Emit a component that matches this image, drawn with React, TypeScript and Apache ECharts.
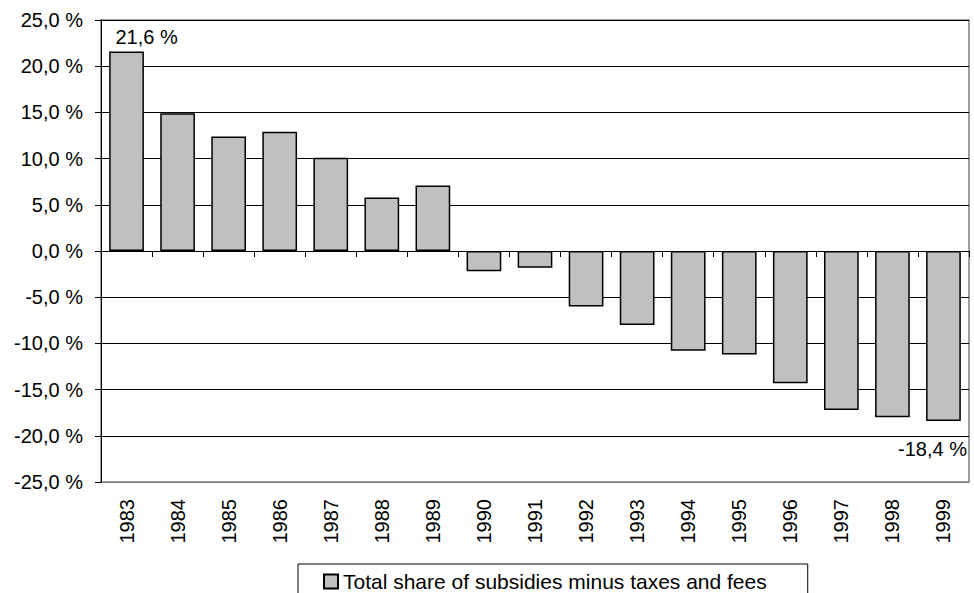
import React, { useEffect, useRef } from "react";
import * as echarts from "echarts";

// Years on the category axis
const years = [
  "1983", "1984", "1985", "1986", "1987", "1988", "1989", "1990", "1991",
  "1992", "1993", "1994", "1995", "1996", "1997", "1998", "1999",
];

// Net subsidy share per year, in percent
const shares = [
  21.6, 14.9, 12.4, 12.9, 10.1, 5.8, 7.1, -2.2, -1.8,
  -6.0, -8.0, -10.8, -11.2, -14.3, -17.2, -18.0, -18.4,
];

// Value axis ticks, percent
const yTicks = [-25, -20, -15, -10, -5, 0, 5, 10, 15, 20, 25];

const seriesName = "Total share of subsidies minus taxes and fees";

const FONT = "'Liberation Sans', Arial, Helvetica, sans-serif";

const fmtPct = (v: number) => v.toFixed(1).replace(".", ",") + " %";

export default function App() {
  const ref = useRef<HTMLDivElement>(null);

  useEffect(() => {
    if (!ref.current) return;
    const chart = echarts.init(ref.current, undefined, { renderer: "svg" });

    const lastIdx = shares.length - 1;
    const barData = shares.map((v, i) => {
      if (i === 0) {
        return {
          value: v,
          label: {
            show: true,
            position: "top",
            distance: 4,
            offset: [20, 0],
            formatter: () => fmtPct(v),
          },
        };
      }
      if (i === lastIdx) {
        return {
          value: v,
          label: {
            show: true,
            position: "bottom",
            distance: 18,
            offset: [-11, 0],
            formatter: () => fmtPct(v),
          },
        };
      }
      return { value: v };
    });

    // bottom gridline doubles as the gray frame edge; the rest are black
    const gridColors = yTicks.map((t, i) => (i === 0 ? "#808080" : "#000000"));

    chart.setOption({
      animation: false,
      backgroundColor: "#ffffff",
      textStyle: { fontFamily: FONT },
      grid: {
        left: 101,
        top: 20,
        right: 5,
        bottom: 111,
        show: true,
        borderColor: "#808080",
        borderWidth: 1.5,
        outerBoundsMode: "none",
        containLabel: false,
      },
      legend: {
        show: true,
        left: 298,
        top: 564,
        data: [seriesName],
        icon: "rect",
        itemWidth: 14,
        itemHeight: 14,
        borderColor: "#000000",
        borderWidth: 1,
        padding: [7, 41, 12, 25],
        textStyle: { fontFamily: FONT, fontSize: 21, color: "#000000" },
      },
      xAxis: {
        type: "category",
        data: years,
        boundaryGap: true,
        axisLine: { onZero: true, lineStyle: { color: "#000000", width: 1 } },
        axisTick: { show: true, length: 6, lineStyle: { color: "#000000" } },
        axisLabel: {
          rotate: 90,
          margin: 17,
          fontFamily: FONT,
          fontSize: 20,
          color: "#000000",
        },
        splitLine: { show: false },
      },
      yAxis: {
        type: "value",
        min: yTicks[0],
        max: yTicks[yTicks.length - 1],
        interval: 5,
        axisLine: { show: true, lineStyle: { color: "#000000", width: 1 } },
        axisTick: { show: true, length: 6, lineStyle: { color: "#000000" } },
        axisLabel: {
          margin: 18,
          fontFamily: FONT,
          fontSize: 20,
          color: "#000000",
          formatter: (v: number) => fmtPct(v),
        },
        splitLine: { show: true, lineStyle: { color: gridColors, width: 1 } },
      },
      series: [
        {
          name: seriesName,
          type: "bar",
          data: barData,
          barCategoryGap: "32%",
          itemStyle: { color: "#c0c0c0", borderColor: "#000000", borderWidth: 1.5 },
          label: {
            fontFamily: FONT,
            fontSize: 20,
            color: "#000000",
          },
        },
      ],
    });

    return () => chart.dispose();
  }, []);

  return (
    <div
      ref={ref}
      style={{ position: "fixed", left: 0, top: 0, width: 974, height: 593, background: "#fff" }}
    />
  );
}
